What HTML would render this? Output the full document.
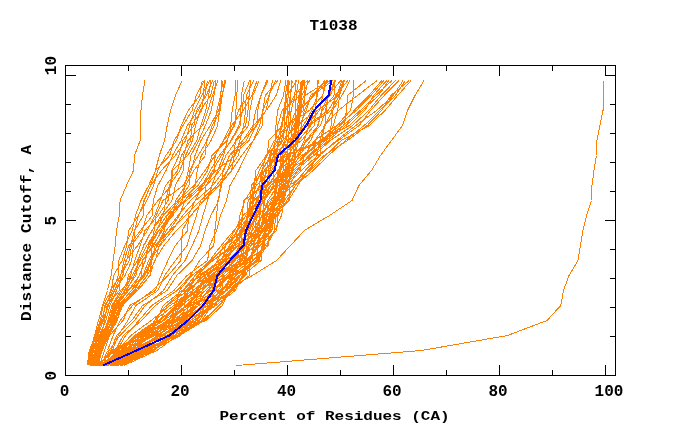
<!DOCTYPE html>
<html><head><meta charset="utf-8"><style>
html,body{margin:0;padding:0;background:#fff;width:680px;height:440px;overflow:hidden}
svg{display:block}
</style></head><body>
<svg width="680" height="440" viewBox="0 0 680 440">
<rect width="680" height="440" fill="#fff"/>
<g shape-rendering="crispEdges" fill="none" stroke-linejoin="miter">
<g stroke="#ff8000" stroke-width="1">
<polyline points="86.9,365.5 89.8,350.5 95.0,335.5 100.3,320.5 103.0,305.5 111.4,290.5 113.6,275.5 122.2,260.5 126.7,245.5 128.8,230.5 138.1,215.5 146.9,200.5 153.6,185.5 157.8,170.5 165.8,155.5 176.6,140.5 181.2,125.5 188.3,110.5 199.8,95.5 202.3,80.5"/>
<polyline points="87.6,365.5 89.2,350.5 95.8,335.5 101.3,320.5 105.7,305.5 112.8,290.5 118.3,275.5 118.7,260.5 124.8,245.5 132.3,230.5 135.5,215.5 141.0,200.5 148.6,185.5 155.7,170.5 169.7,155.5 174.2,140.5 183.0,125.5 192.1,110.5 196.2,95.5 204.3,80.5"/>
<polyline points="88.7,365.5 91.1,350.5 96.5,335.5 102.2,320.5 108.8,305.5 110.2,290.5 120.7,275.5 124.1,260.5 128.9,245.5 140.5,230.5 152.3,215.5 153.2,200.5 157.9,185.5 166.0,170.5 172.5,155.5 181.1,140.5 187.3,125.5 198.2,110.5 205.0,95.5 207.4,80.5"/>
<polyline points="89.6,365.5 91.8,350.5 98.2,335.5 103.1,320.5 104.7,305.5 114.5,290.5 125.0,275.5 131.8,260.5 133.4,245.5 134.8,230.5 143.3,215.5 143.9,200.5 150.8,185.5 161.4,170.5 175.4,155.5 185.6,140.5 189.7,125.5 194.5,110.5 201.6,95.5 209.8,80.5"/>
<polyline points="90.2,365.5 92.7,350.5 99.3,335.5 105.9,320.5 109.9,305.5 116.5,290.5 122.8,275.5 125.9,260.5 137.7,245.5 147.5,230.5 154.7,215.5 160.3,200.5 165.6,185.5 177.7,170.5 181.4,155.5 190.8,140.5 191.4,125.5 201.8,110.5 203.4,95.5 204.7,80.5"/>
<polyline points="91.1,365.5 93.4,350.5 100.0,335.5 110.2,320.5 112.9,305.5 122.5,290.5 130.6,275.5 134.7,260.5 140.2,245.5 145.0,230.5 158.2,215.5 168.1,200.5 170.4,185.5 172.0,170.5 178.9,155.5 182.9,140.5 193.9,125.5 196.5,110.5 206.4,95.5 212.5,80.5"/>
<polyline points="92.1,365.5 94.7,350.5 101.2,335.5 104.6,320.5 107.2,305.5 119.3,290.5 120.3,275.5 129.4,260.5 131.5,245.5 142.4,230.5 146.7,215.5 158.0,200.5 171.6,185.5 172.6,170.5 187.8,155.5 196.9,140.5 200.8,125.5 205.8,110.5 208.6,95.5 210.9,80.5"/>
<polyline points="95.0,365.5 96.1,350.5 102.6,335.5 107.9,320.5 111.9,305.5 120.8,290.5 134.3,275.5 139.2,260.5 146.9,245.5 156.5,230.5 163.3,215.5 165.7,200.5 169.3,185.5 179.9,170.5 185.6,155.5 192.5,140.5 195.6,125.5 200.2,110.5 210.7,95.5 214.3,80.5"/>
<polyline points="92.8,365.5 96.8,350.5 105.6,335.5 109.2,320.5 114.7,305.5 125.4,290.5 128.3,275.5 137.4,260.5 143.9,245.5 152.1,230.5 161.2,215.5 172.0,200.5 175.4,185.5 183.2,170.5 183.6,155.5 187.9,140.5 202.7,125.5 207.8,110.5 212.5,95.5 217.9,80.5"/>
<polyline points="94.4,365.5 97.5,350.5 104.7,335.5 111.5,320.5 116.5,305.5 128.6,290.5 143.7,275.5 151.0,260.5 157.0,245.5 164.5,230.5 166.7,215.5 178.8,200.5 189.0,185.5 189.7,170.5 198.2,155.5 207.1,140.5 212.2,125.5 220.4,110.5 221.9,95.5 225.9,80.5"/>
<polyline points="93.9,365.5 99.6,350.5 106.7,335.5 114.6,320.5 122.9,305.5 134.6,290.5 141.8,275.5 142.2,260.5 153.8,245.5 161.0,230.5 170.7,215.5 182.6,200.5 184.6,185.5 188.5,170.5 190.9,155.5 198.7,140.5 205.3,125.5 211.2,110.5 214.0,95.5 215.7,80.5"/>
<polyline points="96.3,365.5 98.8,350.5 103.4,335.5 112.7,320.5 118.1,305.5 131.6,290.5 139.1,275.5 145.3,260.5 148.7,245.5 158.4,230.5 173.1,215.5 175.6,200.5 185.8,185.5 193.7,170.5 205.5,155.5 206.3,140.5 214.4,125.5 216.9,110.5 220.8,95.5 221.5,80.5"/>
<polyline points="97.0,365.5 101.2,350.5 108.0,335.5 115.7,320.5 120.2,305.5 137.8,290.5 150.1,275.5 151.4,260.5 151.9,245.5 154.1,230.5 156.1,215.5 162.9,200.5 183.3,185.5 191.4,170.5 195.0,155.5 201.0,140.5 210.2,125.5 218.5,110.5 222.5,95.5 224.5,80.5"/>
<polyline points="98.1,365.5 101.9,350.5 109.1,335.5 117.1,320.5 121.2,305.5 136.1,290.5 147.2,275.5 155.3,260.5 159.2,245.5 169.2,230.5 179.4,215.5 185.0,200.5 195.2,185.5 197.2,170.5 201.3,155.5 211.1,140.5 217.6,125.5 219.6,110.5 220.4,95.5 223.1,80.5"/>
<polyline points="91.2,365.5 96.0,350.5 101.9,335.5 108.9,320.5 113.8,305.5 125.6,290.5 135.9,275.5 138.1,260.5 143.5,245.5 151.8,230.5 163.3,215.5 177.4,200.5 194.1,185.5 205.0,170.5 215.0,155.5 223.2,140.5 230.7,125.5 232.2,110.5 235.2,95.5 235.8,80.5"/>
<polyline points="92.2,365.5 97.4,350.5 103.3,335.5 110.2,320.5 115.5,305.5 124.4,290.5 132.1,275.5 140.1,260.5 150.3,245.5 159.1,230.5 169.6,215.5 180.3,200.5 198.0,185.5 207.6,170.5 212.0,155.5 227.0,140.5 233.7,125.5 238.4,110.5 249.2,95.5 250.7,80.5"/>
<polyline points="93.2,365.5 98.9,350.5 105.1,335.5 111.5,320.5 114.6,305.5 128.3,290.5 139.5,275.5 145.6,260.5 148.2,245.5 156.4,230.5 166.8,215.5 186.6,200.5 203.5,185.5 213.0,170.5 221.4,155.5 230.9,140.5 238.9,125.5 242.5,110.5 243.4,95.5 249.8,80.5"/>
<polyline points="95.2,365.5 99.6,350.5 106.0,335.5 112.2,320.5 117.3,305.5 127.0,290.5 134.2,275.5 142.9,260.5 152.5,245.5 162.5,230.5 172.1,215.5 184.4,200.5 201.2,185.5 216.2,170.5 235.5,155.5 239.9,140.5 243.7,125.5 245.6,110.5 246.2,95.5 253.6,80.5"/>
<polyline points="94.0,365.5 98.2,350.5 104.3,335.5 113.6,320.5 120.0,305.5 133.9,290.5 143.0,275.5 148.6,260.5 157.7,245.5 166.3,230.5 178.1,215.5 190.6,200.5 206.4,185.5 219.7,170.5 225.9,155.5 236.5,140.5 248.6,125.5 250.0,110.5 252.9,95.5 259.2,80.5"/>
<polyline points="96.7,365.5 100.8,350.5 107.3,335.5 115.7,320.5 119.0,305.5 131.4,290.5 144.8,275.5 152.0,260.5 155.1,245.5 170.0,230.5 185.8,215.5 200.6,200.5 216.5,185.5 227.6,170.5 232.7,155.5 249.0,140.5 256.0,125.5 266.0,110.5 269.3,95.5 272.6,80.5"/>
<polyline points="95.9,365.5 100.2,350.5 108.0,335.5 114.7,320.5 121.5,305.5 135.8,290.5 146.9,275.5 150.4,260.5 160.1,245.5 172.3,230.5 182.6,215.5 195.7,200.5 212.9,185.5 223.8,170.5 229.3,155.5 242.9,140.5 252.9,125.5 255.7,110.5 261.0,95.5 266.6,80.5"/>
<polyline points="97.7,365.5 102.1,350.5 108.9,335.5 116.9,320.5 122.5,305.5 137.4,290.5 149.9,275.5 154.5,260.5 164.0,245.5 176.5,230.5 191.1,215.5 203.9,200.5 219.5,185.5 231.7,170.5 241.7,155.5 253.2,140.5 259.7,125.5 262.7,110.5 265.2,95.5 278.0,80.5"/>
<polyline points="99.4,365.5 104.6,350.5 109.5,335.5 123.1,320.5 129.7,305.5 155.4,290.5 161.1,275.5 167.9,260.5 175.4,245.5 187.7,230.5 188.4,215.5 195.3,200.5 202.4,185.5 210.3,170.5 219.1,155.5 231.6,140.5 240.1,125.5 240.8,110.5 241.4,95.5 244.3,80.5"/>
<polyline points="101.1,365.5 107.5,350.5 113.1,335.5 120.2,320.5 132.6,305.5 152.6,290.5 168.0,275.5 180.9,260.5 181.5,245.5 182.3,230.5 190.6,215.5 203.9,200.5 206.0,185.5 214.5,170.5 215.1,155.5 223.7,140.5 234.9,125.5 235.9,110.5 236.9,95.5 237.4,80.5"/>
<polyline points="104.6,365.5 112.4,350.5 118.2,335.5 127.8,320.5 135.8,305.5 157.9,290.5 164.7,275.5 175.4,260.5 187.1,245.5 191.4,230.5 196.4,215.5 200.6,200.5 218.5,185.5 231.6,170.5 234.2,155.5 235.4,140.5 245.6,125.5 248.0,110.5 249.1,95.5 250.6,80.5"/>
<polyline points="102.8,365.5 109.0,350.5 120.0,335.5 134.5,320.5 145.3,305.5 163.4,290.5 172.4,275.5 185.1,260.5 192.2,245.5 198.9,230.5 203.0,215.5 207.4,200.5 211.9,185.5 217.6,170.5 223.6,155.5 227.4,140.5 231.4,125.5 243.2,110.5 251.7,95.5 257.1,80.5"/>
<polyline points="106.0,365.5 110.9,350.5 116.5,335.5 131.8,320.5 142.6,305.5 167.2,290.5 176.8,275.5 192.0,260.5 200.7,245.5 205.1,230.5 210.9,215.5 218.7,200.5 220.4,185.5 227.5,170.5 238.3,155.5 242.5,140.5 257.0,125.5 257.7,110.5 260.6,95.5 268.0,80.5"/>
<polyline points="108.2,365.5 115.5,350.5 123.1,335.5 141.7,320.5 155.2,305.5 177.3,290.5 190.5,275.5 199.6,260.5 213.8,245.5 214.9,230.5 216.7,215.5 217.8,200.5 221.8,185.5 222.9,170.5 229.7,155.5 246.4,140.5 253.6,125.5 266.5,110.5 276.1,95.5 280.9,80.5"/>
<polyline points="109.6,365.5 117.1,350.5 125.6,335.5 138.9,320.5 151.8,305.5 173.9,290.5 187.0,275.5 207.6,260.5 209.7,245.5 216.6,230.5 220.5,215.5 226.5,200.5 230.0,185.5 238.6,170.5 245.7,155.5 253.4,140.5 262.3,125.5 263.0,110.5 268.9,95.5 275.6,80.5"/>
<polyline points="97.6,365.5 114.9,350.5 138.9,335.5 174.7,320.5 189.6,305.5 195.9,290.5 213.4,275.5 222.5,260.5 225.4,245.5 234.6,230.5 243.0,215.5 260.0,200.5 261.3,185.5 262.3,170.5 265.9,155.5 281.4,140.5 284.9,125.5 289.3,110.5 290.1,95.5 292.4,80.5"/>
<polyline points="100.1,365.5 122.5,350.5 151.4,335.5 154.6,320.5 166.2,305.5 184.1,290.5 194.9,275.5 213.0,260.5 233.5,245.5 243.3,230.5 247.1,215.5 248.1,200.5 260.9,185.5 264.3,170.5 276.7,155.5 277.9,140.5 281.2,125.5 284.6,110.5 285.3,95.5 287.8,80.5"/>
<polyline points="103.4,365.5 117.9,350.5 135.7,335.5 159.7,320.5 176.3,305.5 189.1,290.5 203.9,275.5 226.4,260.5 245.1,245.5 261.6,230.5 263.2,215.5 263.8,200.5 273.3,185.5 273.9,170.5 274.7,155.5 279.3,140.5 286.7,125.5 287.2,110.5 288.2,95.5 289.4,80.5"/>
<polyline points="108.2,365.5 126.0,350.5 143.9,335.5 167.1,320.5 185.9,305.5 199.3,290.5 219.6,275.5 220.6,260.5 229.7,245.5 237.4,230.5 249.9,215.5 253.4,200.5 254.7,185.5 261.8,170.5 270.8,155.5 283.5,140.5 284.2,125.5 285.0,110.5 286.9,95.5 297.0,80.5"/>
<polyline points="112.8,365.5 135.3,350.5 159.1,335.5 197.6,320.5 201.9,305.5 213.6,290.5 228.5,275.5 241.7,260.5 251.0,245.5 251.9,230.5 263.1,215.5 278.0,200.5 281.1,185.5 285.5,170.5 287.0,155.5 287.9,140.5 289.7,125.5 291.1,110.5 294.8,95.5 295.8,80.5"/>
<polyline points="105.0,365.5 131.1,350.5 148.4,335.5 171.1,320.5 180.3,305.5 202.9,290.5 204.2,275.5 233.6,260.5 239.7,245.5 257.0,230.5 272.1,215.5 273.0,200.5 276.7,185.5 279.0,170.5 282.5,155.5 285.0,140.5 288.1,125.5 289.6,110.5 290.8,95.5 291.6,80.5"/>
<polyline points="115.4,365.5 143.0,350.5 162.2,335.5 189.1,320.5 195.3,305.5 209.0,290.5 210.2,275.5 230.3,260.5 257.6,245.5 271.8,230.5 274.5,215.5 280.8,200.5 282.4,185.5 289.7,170.5 293.0,155.5 293.9,140.5 295.0,125.5 295.6,110.5 296.2,95.5 298.6,80.5"/>
<polyline points="111.2,365.5 139.0,350.5 178.7,335.5 201.6,320.5 211.8,305.5 230.8,290.5 243.4,275.5 245.0,260.5 248.1,245.5 264.6,230.5 266.3,215.5 273.9,200.5 285.3,185.5 286.2,170.5 290.5,155.5 291.2,140.5 297.5,125.5 299.5,110.5 301.0,95.5 302.7,80.5"/>
<polyline points="121.2,365.5 154.1,350.5 172.9,335.5 185.8,320.5 215.3,305.5 222.1,290.5 232.0,275.5 250.7,260.5 253.7,245.5 255.5,230.5 256.3,215.5 256.8,200.5 267.8,185.5 278.3,170.5 288.3,155.5 297.3,140.5 298.4,125.5 300.1,110.5 301.2,95.5 303.6,80.5"/>
<polyline points="117.7,365.5 149.7,350.5 169.4,335.5 181.6,320.5 208.3,305.5 226.9,290.5 240.2,275.5 256.1,260.5 263.3,245.5 269.0,230.5 269.6,215.5 283.5,200.5 288.1,185.5 292.7,170.5 294.6,155.5 295.5,140.5 296.5,125.5 297.3,110.5 298.8,95.5 302.6,80.5"/>
<polyline points="97.2,365.5 113.7,350.5 144.3,335.5 154.6,320.5 173.7,305.5 182.7,290.5 195.2,275.5 213.0,260.5 232.2,245.5 241.2,230.5 249.6,215.5 250.6,200.5 256.1,185.5 273.4,170.5 276.8,155.5 286.3,140.5 287.3,125.5 303.4,110.5 305.0,95.5 307.9,80.5"/>
<polyline points="99.8,365.5 122.2,350.5 134.2,335.5 160.6,320.5 167.1,305.5 187.8,290.5 197.8,275.5 211.0,260.5 225.6,245.5 237.7,230.5 239.8,215.5 244.7,200.5 254.3,185.5 255.8,170.5 266.4,155.5 274.4,140.5 287.3,125.5 309.4,110.5 322.7,95.5 325.2,80.5"/>
<polyline points="103.0,365.5 123.9,350.5 142.3,335.5 173.0,320.5 174.2,305.5 196.6,290.5 205.6,275.5 226.2,260.5 235.9,245.5 236.6,230.5 245.8,215.5 258.1,200.5 261.0,185.5 266.6,170.5 269.2,155.5 277.2,140.5 289.7,125.5 296.0,110.5 304.3,95.5 304.8,80.5"/>
<polyline points="106.3,365.5 125.9,350.5 136.5,335.5 158.0,320.5 182.2,305.5 185.2,290.5 209.3,275.5 217.5,260.5 223.2,245.5 244.1,230.5 247.8,215.5 250.3,200.5 251.3,185.5 264.3,170.5 278.6,155.5 284.5,140.5 294.1,125.5 301.0,110.5 301.6,95.5 309.5,80.5"/>
<polyline points="104.3,365.5 118.0,350.5 138.9,335.5 164.0,320.5 177.6,305.5 191.5,290.5 201.4,275.5 223.1,260.5 237.9,245.5 252.3,230.5 262.1,215.5 269.3,200.5 284.3,185.5 287.9,170.5 289.0,155.5 292.9,140.5 305.0,125.5 319.8,110.5 322.7,95.5 326.6,80.5"/>
<polyline points="108.1,365.5 136.1,350.5 157.4,335.5 176.5,320.5 195.4,305.5 209.0,290.5 219.2,275.5 239.5,260.5 243.4,245.5 246.4,230.5 247.6,215.5 262.8,200.5 263.9,185.5 265.8,170.5 274.3,155.5 279.8,140.5 281.6,125.5 285.9,110.5 294.5,95.5 307.2,80.5"/>
<polyline points="111.4,365.5 133.7,350.5 160.3,335.5 186.5,320.5 188.1,305.5 211.3,290.5 229.9,275.5 232.3,260.5 241.2,245.5 249.7,230.5 255.1,215.5 256.2,200.5 268.0,185.5 271.6,170.5 282.4,155.5 288.5,140.5 299.3,125.5 306.4,110.5 310.5,95.5 330.1,80.5"/>
<polyline points="110.1,365.5 149.4,350.5 172.3,335.5 189.8,320.5 190.7,305.5 216.0,290.5 223.0,275.5 234.4,260.5 243.3,245.5 245.3,230.5 251.2,215.5 253.6,200.5 259.1,185.5 262.1,170.5 271.2,155.5 282.6,140.5 297.0,125.5 298.6,110.5 300.1,95.5 302.4,80.5"/>
<polyline points="101.8,365.5 119.8,350.5 155.1,335.5 170.2,320.5 198.7,305.5 202.2,290.5 216.9,275.5 228.7,260.5 245.1,245.5 260.9,230.5 273.5,215.5 276.0,200.5 279.5,185.5 280.7,170.5 287.2,155.5 298.4,140.5 310.9,125.5 313.1,110.5 330.7,95.5 334.8,80.5"/>
<polyline points="112.5,365.5 144.7,350.5 162.5,335.5 181.2,320.5 193.0,305.5 199.8,290.5 214.5,275.5 253.4,260.5 264.2,245.5 264.8,230.5 267.0,215.5 267.9,200.5 277.6,185.5 280.2,170.5 280.6,155.5 301.6,140.5 314.3,125.5 315.7,110.5 316.4,95.5 318.5,80.5"/>
<polyline points="113.6,365.5 128.2,350.5 152.5,335.5 178.7,320.5 205.2,305.5 233.2,290.5 244.6,275.5 245.7,260.5 259.9,245.5 272.0,230.5 273.6,215.5 274.8,200.5 275.6,185.5 278.1,170.5 290.1,155.5 290.7,140.5 291.9,125.5 299.0,110.5 314.0,95.5 324.7,80.5"/>
<polyline points="117.9,365.5 146.9,350.5 176.2,335.5 184.0,320.5 202.4,305.5 213.5,290.5 227.2,275.5 246.1,260.5 248.9,245.5 257.0,230.5 267.5,215.5 278.1,200.5 279.3,185.5 293.3,170.5 294.5,155.5 296.3,140.5 306.9,125.5 328.2,110.5 337.1,95.5 341.9,80.5"/>
<polyline points="116.8,365.5 142.9,350.5 166.2,335.5 193.3,320.5 214.5,305.5 222.8,290.5 235.4,275.5 237.3,260.5 251.7,245.5 259.1,230.5 264.3,215.5 280.8,200.5 287.3,185.5 291.5,170.5 299.3,155.5 310.6,140.5 317.7,125.5 322.2,110.5 334.0,95.5 334.9,80.5"/>
<polyline points="120.9,365.5 152.9,350.5 169.3,335.5 197.0,320.5 208.8,305.5 225.4,290.5 233.0,275.5 256.7,260.5 257.4,245.5 259.2,230.5 260.0,215.5 260.4,200.5 270.2,185.5 287.7,170.5 297.6,155.5 304.2,140.5 308.9,125.5 331.1,110.5 339.4,95.5 344.6,80.5"/>
<polyline points="119.6,365.5 141.0,350.5 179.4,335.5 204.3,320.5 219.5,305.5 230.9,290.5 240.2,275.5 248.3,260.5 258.0,245.5 266.5,230.5 271.3,215.5 282.6,200.5 283.6,185.5 284.2,170.5 293.6,155.5 307.1,140.5 320.4,125.5 325.7,110.5 328.0,95.5 335.7,80.5"/>
<polyline points="97.5,365.5 112.0,350.5 140.5,335.5 169.5,320.5 175.5,305.5 189.1,290.5 194.7,275.5 209.6,260.5 221.2,245.5 233.9,230.5 246.5,215.5 252.4,200.5 253.2,185.5 259.3,170.5 267.3,155.5 268.8,140.5 282.8,125.5 283.6,110.5 286.8,95.5 288.5,80.5"/>
<polyline points="103.4,365.5 117.9,350.5 130.8,335.5 151.1,320.5 169.9,305.5 193.0,290.5 211.8,275.5 231.1,260.5 243.4,245.5 256.4,230.5 262.1,215.5 265.0,200.5 267.1,185.5 268.6,170.5 270.3,155.5 275.6,140.5 277.7,125.5 282.1,110.5 299.9,95.5 301.2,80.5"/>
<polyline points="101.1,365.5 126.7,350.5 152.5,335.5 174.5,320.5 176.3,305.5 179.4,290.5 191.7,275.5 212.0,260.5 225.6,245.5 241.7,230.5 242.1,215.5 244.0,200.5 264.6,185.5 269.9,170.5 273.4,155.5 275.2,140.5 276.0,125.5 277.6,110.5 283.5,95.5 285.8,80.5"/>
<polyline points="96.2,365.5 115.6,350.5 147.2,335.5 159.8,320.5 179.1,305.5 196.5,290.5 229.0,275.5 229.9,260.5 246.5,245.5 250.0,230.5 251.1,215.5 263.9,200.5 275.2,185.5 292.9,170.5 295.2,155.5 298.4,140.5 301.4,125.5 304.3,110.5 312.2,95.5 332.9,80.5"/>
<polyline points="105.5,365.5 134.1,350.5 164.1,335.5 183.3,320.5 184.1,305.5 186.2,290.5 197.7,275.5 224.8,260.5 229.1,245.5 247.3,230.5 257.3,215.5 274.5,200.5 285.1,185.5 289.5,170.5 290.0,155.5 291.4,140.5 298.3,125.5 301.3,110.5 305.2,95.5 328.4,80.5"/>
<polyline points="98.8,365.5 120.8,350.5 136.9,335.5 163.2,320.5 187.9,305.5 202.6,290.5 217.9,275.5 218.9,260.5 239.4,245.5 240.0,230.5 254.7,215.5 261.8,200.5 266.6,185.5 270.1,170.5 270.6,155.5 291.7,140.5 303.4,125.5 311.7,110.5 317.5,95.5 318.0,80.5"/>
<polyline points="114.4,365.5 142.4,350.5 156.8,335.5 166.3,320.5 191.6,305.5 226.2,290.5 235.6,275.5 259.2,260.5 262.2,245.5 265.5,230.5 272.4,215.5 275.2,200.5 277.0,185.5 277.5,170.5 298.9,155.5 305.9,140.5 318.3,125.5 321.5,110.5 328.5,95.5 340.8,80.5"/>
<polyline points="107.0,365.5 122.8,350.5 134.5,335.5 156.8,320.5 163.1,305.5 182.2,290.5 200.5,275.5 219.4,260.5 234.1,245.5 264.3,230.5 269.2,215.5 275.0,200.5 277.4,185.5 280.3,170.5 283.9,155.5 321.8,140.5 324.8,125.5 332.5,110.5 341.9,95.5 350.0,80.5"/>
<polyline points="112.0,365.5 129.9,350.5 144.9,335.5 178.0,320.5 197.5,305.5 207.5,290.5 225.2,275.5 242.9,260.5 244.3,245.5 244.8,230.5 259.5,215.5 260.1,200.5 260.9,185.5 267.3,170.5 286.8,155.5 325.1,140.5 333.2,125.5 337.6,110.5 339.7,95.5 343.8,80.5"/>
<polyline points="118.1,365.5 153.8,350.5 174.7,335.5 186.3,320.5 205.9,305.5 212.4,290.5 214.9,275.5 247.2,260.5 260.0,245.5 276.7,230.5 278.0,215.5 286.9,200.5 295.2,185.5 309.6,170.5 316.8,155.5 320.0,140.5 324.2,125.5 338.3,110.5 357.5,95.5 377.1,80.5"/>
<polyline points="110.1,365.5 137.4,350.5 160.3,335.5 203.0,320.5 219.6,305.5 231.7,290.5 249.3,275.5 250.0,260.5 253.4,245.5 270.7,230.5 272.4,215.5 273.5,200.5 275.4,185.5 286.1,170.5 313.8,155.5 315.1,140.5 325.2,125.5 326.3,110.5 328.3,95.5 334.6,80.5"/>
<polyline points="122.5,365.5 146.3,350.5 171.6,335.5 190.6,320.5 211.1,305.5 219.1,290.5 239.2,275.5 256.6,260.5 265.3,245.5 274.6,230.5 275.4,215.5 279.4,200.5 281.4,185.5 283.1,170.5 284.2,155.5 295.3,140.5 296.0,125.5 317.3,110.5 338.5,95.5 343.2,80.5"/>
<polyline points="115.6,365.5 140.0,350.5 168.9,335.5 206.0,320.5 222.3,305.5 229.2,290.5 245.0,275.5 246.5,260.5 268.3,245.5 268.9,230.5 273.4,215.5 289.1,200.5 289.9,185.5 297.2,170.5 309.4,155.5 329.2,140.5 331.1,125.5 332.9,110.5 335.3,95.5 348.0,80.5"/>
<polyline points="120.7,365.5 151.6,350.5 180.4,335.5 196.5,320.5 202.6,305.5 222.3,290.5 223.2,275.5 233.5,260.5 257.0,245.5 261.8,230.5 277.5,215.5 283.4,200.5 284.1,185.5 299.7,170.5 304.5,155.5 314.4,140.5 336.7,125.5 350.6,110.5 353.3,95.5 353.9,80.5"/>
<polyline points="123.8,365.5 156.9,350.5 177.5,335.5 193.1,320.5 215.8,305.5 235.3,290.5 242.3,275.5 252.3,260.5 253.2,245.5 259.1,230.5 267.9,215.5 276.8,200.5 292.4,185.5 305.5,170.5 320.2,155.5 321.2,140.5 343.7,125.5 346.6,110.5 347.4,95.5 366.3,80.5"/>
<polyline points="99.6,365.5 120.6,350.5 141.6,335.5 162.9,320.5 176.0,305.5 198.9,290.5 207.9,275.5 224.8,260.5 234.2,245.5 245.7,230.5 251.0,215.5 256.5,200.5 265.6,185.5 290.4,170.5 303.8,155.5 320.1,140.5 340.2,125.5 354.2,110.5 368.9,95.5 381.8,80.5"/>
<polyline points="101.6,365.5 118.0,350.5 136.6,335.5 158.7,320.5 178.9,305.5 195.4,290.5 211.3,275.5 228.4,260.5 241.5,245.5 242.0,230.5 248.0,215.5 254.1,200.5 268.1,185.5 285.5,170.5 301.7,155.5 323.7,140.5 337.7,125.5 356.3,110.5 370.9,95.5 383.8,80.5"/>
<polyline points="104.1,365.5 132.4,350.5 151.7,335.5 167.8,320.5 182.4,305.5 192.7,290.5 217.7,275.5 235.5,260.5 238.5,245.5 248.0,230.5 257.8,215.5 261.2,200.5 275.0,185.5 288.6,170.5 305.4,155.5 321.8,140.5 349.4,125.5 364.8,110.5 373.6,95.5 386.8,80.5"/>
<polyline points="107.3,365.5 124.8,350.5 148.9,335.5 184.5,320.5 195.7,305.5 214.4,290.5 231.2,275.5 244.1,260.5 246.8,245.5 251.8,230.5 255.8,215.5 264.1,200.5 270.6,185.5 293.1,170.5 310.2,155.5 328.4,140.5 345.9,125.5 362.3,110.5 378.5,95.5 388.8,80.5"/>
<polyline points="108.7,365.5 127.1,350.5 154.5,335.5 175.1,320.5 189.2,305.5 205.3,290.5 222.0,275.5 240.4,260.5 249.0,245.5 258.6,230.5 265.4,215.5 271.1,200.5 282.9,185.5 297.7,170.5 308.3,155.5 325.8,140.5 343.5,125.5 360.2,110.5 375.7,95.5 392.0,80.5"/>
<polyline points="105.8,365.5 129.9,350.5 144.6,335.5 170.8,320.5 186.2,305.5 202.5,290.5 215.0,275.5 231.3,260.5 243.9,245.5 255.1,230.5 262.4,215.5 267.8,200.5 278.3,185.5 295.5,170.5 313.9,155.5 330.3,140.5 352.6,125.5 368.7,110.5 381.1,95.5 395.6,80.5"/>
<polyline points="116.3,365.5 142.1,350.5 166.9,335.5 190.6,320.5 212.6,305.5 232.7,290.5 242.8,275.5 261.1,260.5 262.3,245.5 269.9,230.5 270.9,215.5 276.8,200.5 286.7,185.5 301.2,170.5 317.7,155.5 338.3,140.5 359.2,125.5 370.6,110.5 384.2,95.5 399.0,80.5"/>
<polyline points="114.1,365.5 138.7,350.5 157.4,335.5 181.7,320.5 198.8,305.5 218.3,290.5 227.7,275.5 247.7,260.5 257.3,245.5 265.5,230.5 270.0,215.5 274.6,200.5 293.1,185.5 305.2,170.5 319.6,155.5 336.5,140.5 355.8,125.5 376.6,110.5 393.2,95.5 403.1,80.5"/>
<polyline points="112.8,365.5 148.0,350.5 174.3,335.5 202.8,320.5 219.1,305.5 229.6,290.5 245.8,275.5 250.7,260.5 254.3,245.5 267.5,230.5 272.8,215.5 288.3,200.5 297.9,185.5 307.9,170.5 324.0,155.5 347.5,140.5 367.3,125.5 381.7,110.5 390.8,95.5 409.2,80.5"/>
<polyline points="120.1,365.5 145.4,350.5 177.0,335.5 199.3,320.5 209.2,305.5 225.4,290.5 239.3,275.5 257.6,260.5 266.8,245.5 274.8,230.5 281.5,215.5 284.3,200.5 295.5,185.5 313.1,170.5 328.4,155.5 345.6,140.5 364.2,125.5 379.6,110.5 395.4,95.5 405.3,80.5"/>
<polyline points="118.0,365.5 152.7,350.5 171.0,335.5 195.7,320.5 205.8,305.5 221.1,290.5 235.5,275.5 253.7,260.5 264.5,245.5 265.7,230.5 276.7,215.5 281.2,200.5 289.2,185.5 310.1,170.5 325.6,155.5 341.3,140.5 369.4,125.5 385.0,110.5 397.7,95.5 411.1,80.5"/>
<polyline points="87.5,365.5 90.5,350.5 94.5,335.5 98.5,320.5 102.5,305.5 107.5,290.5 111.1,275.5 113.1,260.5 115.2,245.5 116.5,230.5 119.3,215.5 120.1,200.5 126.5,185.5 133.5,170.5 134.5,155.5 140.1,140.5 140.5,125.5 141.0,110.5 142.5,95.5 145.0,80.5"/>
<polyline points="87.5,365.5 92.5,350.5 97.5,335.5 103.5,320.5 108.5,305.5 114.5,290.5 120.5,275.5 126.5,260.5 130.5,245.5 134.5,230.5 138.5,215.5 144.5,200.5 150.5,185.5 155.5,170.5 159.3,155.5 164.5,140.5 167.2,125.5 170.5,110.5 175.5,95.5 182.1,80.5"/>
<polyline points="100.5,365.5 130.5,350.5 160.5,335.5 185.5,320.5 205.5,305.5 225.5,290.5 252.5,275.5 276.5,260.5 290.5,245.5 304.5,230.5 329.5,215.5 352.0,200.5 359.0,185.5 371.5,170.5 380.5,155.5 391.5,140.5 402.5,125.5 407.5,110.5 415.0,95.5 424.0,80.5"/>
<polyline points="236.5,365.5 421.5,350.5 507.5,335.5 547.0,320.5 560.8,305.5 563.5,290.5 569.0,275.5 578.0,260.5 580.5,245.5 583.0,230.5 586.5,215.5 591.5,200.5 592.0,185.5 594.0,170.5 596.5,155.5 597.0,140.5 600.0,125.5 603.0,110.5 603.0,95.5 603.0,80.5"/>
</g>
<polyline stroke="#0000ff" stroke-width="2" points="102.8,365.5 136.5,350.5 169.5,335.5 188.0,320.5 203.0,305.5 213.5,290.5 217.5,275.5 230.0,260.5 243.5,245.5 246.0,230.5 253.2,215.5 260.5,200.5 262.0,185.5 274.5,170.5 278.0,155.5 295.0,140.5 306.5,125.5 314.0,110.5 328.5,95.5 331.5,80.5"/>
</g>
<rect x="65" y="65" width="551" height="1" fill="#000"/>
<rect x="65" y="375" width="551" height="1" fill="#000"/>
<rect x="65" y="65" width="1" height="311" fill="#000"/>
<rect x="615" y="65" width="1" height="311" fill="#000"/>
<rect x="128" y="66" width="1" height="5" fill="#000"/>
<rect x="128" y="370" width="1" height="5" fill="#000"/>
<rect x="181" y="66" width="1" height="10" fill="#000"/>
<rect x="181" y="365" width="1" height="10" fill="#000"/>
<rect x="234" y="66" width="1" height="5" fill="#000"/>
<rect x="234" y="370" width="1" height="5" fill="#000"/>
<rect x="287" y="66" width="1" height="10" fill="#000"/>
<rect x="287" y="365" width="1" height="10" fill="#000"/>
<rect x="340" y="66" width="1" height="5" fill="#000"/>
<rect x="340" y="370" width="1" height="5" fill="#000"/>
<rect x="393" y="66" width="1" height="10" fill="#000"/>
<rect x="393" y="365" width="1" height="10" fill="#000"/>
<rect x="446" y="66" width="1" height="5" fill="#000"/>
<rect x="446" y="370" width="1" height="5" fill="#000"/>
<rect x="499" y="66" width="1" height="10" fill="#000"/>
<rect x="499" y="365" width="1" height="10" fill="#000"/>
<rect x="552" y="66" width="1" height="5" fill="#000"/>
<rect x="552" y="370" width="1" height="5" fill="#000"/>
<rect x="605" y="66" width="1" height="10" fill="#000"/>
<rect x="605" y="365" width="1" height="10" fill="#000"/>
<rect x="66" y="75" width="10" height="1" fill="#000"/>
<rect x="605" y="75" width="10" height="1" fill="#000"/>
<rect x="66" y="104" width="5" height="1" fill="#000"/>
<rect x="610" y="104" width="5" height="1" fill="#000"/>
<rect x="66" y="133" width="5" height="1" fill="#000"/>
<rect x="610" y="133" width="5" height="1" fill="#000"/>
<rect x="66" y="162" width="5" height="1" fill="#000"/>
<rect x="610" y="162" width="5" height="1" fill="#000"/>
<rect x="66" y="191" width="5" height="1" fill="#000"/>
<rect x="610" y="191" width="5" height="1" fill="#000"/>
<rect x="66" y="220" width="10" height="1" fill="#000"/>
<rect x="605" y="220" width="10" height="1" fill="#000"/>
<rect x="66" y="249" width="5" height="1" fill="#000"/>
<rect x="610" y="249" width="5" height="1" fill="#000"/>
<rect x="66" y="278" width="5" height="1" fill="#000"/>
<rect x="610" y="278" width="5" height="1" fill="#000"/>
<rect x="66" y="307" width="5" height="1" fill="#000"/>
<rect x="610" y="307" width="5" height="1" fill="#000"/>
<rect x="66" y="336" width="5" height="1" fill="#000"/>
<rect x="610" y="336" width="5" height="1" fill="#000"/>
<text transform="translate(309.5,30) scale(1,0.9)" font-family="Liberation Mono, monospace" font-weight="bold" font-size="16">T1038</text>
<text transform="translate(219.5,420) scale(1,0.8)" font-family="Liberation Mono, monospace" font-weight="bold" font-size="16">Percent of Residues (CA)</text>
<text x="64.5" y="395.5" text-anchor="middle" font-family="Liberation Mono, monospace" font-weight="bold" font-size="16">0</text>
<text x="180" y="395.5" text-anchor="middle" font-family="Liberation Mono, monospace" font-weight="bold" font-size="16">20</text>
<text x="286.5" y="395.5" text-anchor="middle" font-family="Liberation Mono, monospace" font-weight="bold" font-size="16">40</text>
<text x="392" y="395.5" text-anchor="middle" font-family="Liberation Mono, monospace" font-weight="bold" font-size="16">60</text>
<text x="498" y="395.5" text-anchor="middle" font-family="Liberation Mono, monospace" font-weight="bold" font-size="16">80</text>
<text x="609" y="395.5" text-anchor="middle" font-family="Liberation Mono, monospace" font-weight="bold" font-size="16">100</text>
<text x="0" y="0" text-anchor="middle" transform="translate(56,375.8) rotate(-90)" font-family="Liberation Mono, monospace" font-weight="bold" font-size="16">0</text>
<text x="0" y="0" text-anchor="middle" transform="translate(56,220.6) rotate(-90)" font-family="Liberation Mono, monospace" font-weight="bold" font-size="16">5</text>
<text x="0" y="0" text-anchor="middle" transform="translate(56,65.6) rotate(-90)" font-family="Liberation Mono, monospace" font-weight="bold" font-size="16">10</text>
<text x="0" y="0" text-anchor="middle" textLength="176" lengthAdjust="spacing" transform="translate(30.5,233) rotate(-90) scale(1,0.88)" font-family="Liberation Mono, monospace" font-weight="bold" font-size="16">Distance Cutoff, A</text>
</svg>
</body></html>
